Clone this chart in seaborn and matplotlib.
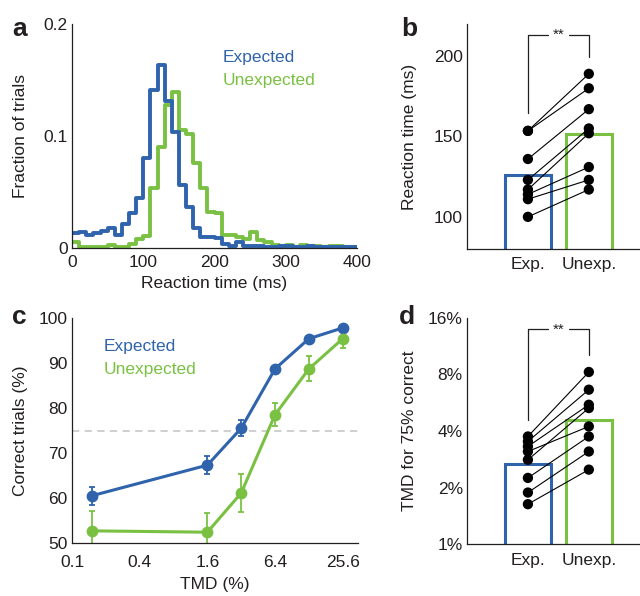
import numpy as np
import pandas as pd
import matplotlib
matplotlib.use("Agg")
import matplotlib.pyplot as plt
import seaborn as sns

sns.set_style("white")
plt.rcParams['font.family'] = ['Liberation Sans', 'DejaVu Sans']

BLUE = "#2F63AC"
GREEN = "#7AC143"
TXT = "#231F20"

# ---------------- Panel a: reaction time histograms ----------------
bin_edges = np.arange(0, 410, 10)
hist_expected = [0.013, 0.014, 0.012, 0.013, 0.015, 0.018, 0.012, 0.021, 0.031, 0.045,
                 0.080, 0.141, 0.163, 0.131, 0.104, 0.056, 0.037, 0.018, 0.010, 0.010,
                 0.009, 0.004, 0.002, 0.005, 0.002, 0.002, 0.002, 0.001, 0.001, 0.002,
                 0.002, 0.001, 0.001, 0.002, 0.001, 0.001, 0.001, 0.001, 0.001, 0.001]
hist_unexpected = [0.005, 0.001, 0.001, 0.001, 0.001, 0.003, 0.001, 0.001, 0.004, 0.008,
                   0.011, 0.054, 0.090, 0.128, 0.139, 0.105, 0.102, 0.076, 0.054, 0.032,
                   0.031, 0.012, 0.012, 0.010, 0.008, 0.014, 0.007, 0.005, 0.003, 0.002,
                   0.003, 0.001, 0.003, 0.002, 0.002, 0.001, 0.002, 0.002, 0.001, 0.001]

# ---------------- Panel b: mean reaction time per subject ----------------
conditions = ["Exp.", "Unexp."]
rt_expected = [153.5, 153.5, 136, 123, 117, 114, 111, 100]
rt_unexpected = [189, 180, 167, 155, 152, 131, 123, 117]

# ---------------- Panel c: psychometric curves ----------------
tmd = [0.15, 1.6, 3.2, 6.4, 12.8, 25.6]
tmd_ticks = [0.1, 0.4, 1.6, 6.4, 25.6]
correct_expected = [60.5, 67.3, 75.5, 88.7, 95.4, 97.8]
sem_expected = [2.0, 2.0, 1.8, 0.6, 0.5, 0.5]
correct_unexpected = [52.7, 52.4, 61.1, 78.5, 88.7, 95.4]
sem_unexpected = [4.5, 4.3, 4.2, 2.6, 2.8, 2.0]

# ---------------- Panel d: TMD for 75% correct ----------------
tmd75_expected = [3.74, 3.52, 3.31, 3.11, 2.81, 2.25, 1.88, 1.63]
tmd75_unexpected = [8.25, 6.64, 5.52, 4.23, 5.30, 3.74, 3.11, 2.49]

W, H = 640, 596
fig = plt.figure(figsize=(W / 100, H / 100), dpi=100)


def axes_px(left, top, right, bottom):
    return fig.add_axes([left / W, 1 - bottom / H, (right - left) / W, (bottom - top) / H])


def style(ax, xpad=5, fs=12.5):
    for s in ["top", "right"]:
        ax.spines[s].set_visible(False)
    for s in ["left", "bottom"]:
        ax.spines[s].set_color(TXT)
        ax.spines[s].set_linewidth(0.9)
    ax.tick_params(direction="in", length=3, width=0.9, colors=TXT, labelsize=fs, pad=3)
    ax.tick_params(axis="x", pad=xpad)
    ax.set_facecolor("none")


def place_ylabel(ax, left_px, x_px):
    # right edge (text baseline side) of the rotated y-label at figure pixel column x_px
    l, b, w, h = ax.get_position().bounds
    ax.yaxis.set_label_coords((x_px - left_px) / (w * W), 0.5)


LFS = 12.5

# ---- a ----
ax_a = axes_px(72, 24, 357, 248)
centers = bin_edges[:-1] + 5
df_a = pd.DataFrame({"rt": np.concatenate([centers, centers]),
                     "frac": hist_expected + hist_unexpected,
                     "cond": ["Expected"] * len(centers) + ["Unexpected"] * len(centers)})
sns.histplot(data=df_a, x="rt", weights="frac", hue="cond", palette=[BLUE, GREEN],
             bins=len(centers), binrange=(bin_edges[0], bin_edges[-1]), element="step",
             fill=False, linewidth=2.8, legend=False, ax=ax_a)
ax_a.set_xlim(0, 400)
ax_a.set_ylim(0, 0.2)
ax_a.set_xticks([0, 100, 200, 300, 400])
ax_a.set_yticks([0, 0.1, 0.2])
ax_a.set_yticklabels(["0", "0.1", "0.2"])
ax_a.set_xlabel("Reaction time (ms)", fontsize=LFS, color=TXT, labelpad=4)
ax_a.set_ylabel("Fraction of trials", fontsize=LFS, color=TXT)
style(ax_a, xpad=5)
place_ylabel(ax_a, 72, 28)
ax_a.text(212, 0.17, "Expected", color=BLUE, fontsize=LFS, va="center")
ax_a.text(212, 0.15, "Unexpected", color=GREEN, fontsize=LFS, va="center")


def paired_panel(ax, exp_vals, unexp_vals, log=False):
    n = len(exp_vals)
    df = pd.DataFrame({
        "cond": [conditions[0]] * n + [conditions[1]] * n,
        "pos": [0] * n + [1] * n,
        "val": list(exp_vals) + list(unexp_vals),
        "subj": list(range(n)) * 2,
    })
    if log:
        ax.set_yscale("log", base=2)
    sns.barplot(data=df, x="cond", y="val", hue="cond", palette=[BLUE, GREEN],
                errorbar=None, fill=False, linewidth=2.2, width=0.75, legend=False, ax=ax)
    sns.lineplot(data=df, x="pos", y="val", units="subj", estimator=None, color="black",
                 linewidth=0.8, ax=ax)
    sns.scatterplot(data=df, x="pos", y="val", color="black", s=55, edgecolor="none",
                    zorder=5, ax=ax, clip_on=False)
    ax.set_xlabel("")
    ax.set_xticks([0, 1])
    ax.set_xticklabels(conditions)


# ---- b ----
ax_b = axes_px(467, 24, 640, 249)
paired_panel(ax_b, rt_expected, rt_unexpected)
ax_b.set_xlim(-1, 1.84)
ax_b.set_ylim(80, 220)
ax_b.set_yticks([100, 150, 200])
ax_b.set_ylabel("Reaction time (ms)", fontsize=LFS, color=TXT)
style(ax_b, xpad=6)
place_ylabel(ax_b, 467, 417)
ax_b.plot([0, 0, 0.33], [164.5, 213, 213], color=TXT, lw=0.9)
ax_b.plot([0.67, 1, 1], [213, 213, 199.5], color=TXT, lw=0.9)
ax_b.text(0.5, 213, "**", ha="center", va="center", fontsize=11, color=TXT)

# ---- c ----
ax_c = axes_px(72, 318, 358, 543)
ax_c.set_xscale("log", base=2)
df_c = pd.DataFrame({
    "tmd": tmd * 2,
    "pc": correct_expected + correct_unexpected,
    "cond": ["Expected"] * len(tmd) + ["Unexpected"] * len(tmd),
})
ax_c.axhline(75, color="#CCCCCC", lw=1.3, ls=(0, (4, 3)), zorder=0)
ax_c.errorbar(tmd, correct_expected, yerr=sem_expected, fmt="none", ecolor=BLUE,
              elinewidth=1.3, capsize=2.5, capthick=1.3)
ax_c.errorbar(tmd, correct_unexpected, yerr=sem_unexpected, fmt="none", ecolor=GREEN,
              elinewidth=1.3, capsize=2.5, capthick=1.3)
sns.lineplot(data=df_c, x="tmd", y="pc", hue="cond", palette=[BLUE, GREEN], marker="o",
             markersize=8.5, markeredgecolor="none", linewidth=2.2, legend=False, ax=ax_c)
ax_c.set_xlim(0.1, 35)
ax_c.set_ylim(50, 100)
ax_c.set_xticks(tmd_ticks)
ax_c.set_xticklabels([str(t) for t in tmd_ticks])
ax_c.xaxis.set_minor_locator(matplotlib.ticker.NullLocator())
ax_c.set_yticks([50, 60, 70, 80, 90, 100])
ax_c.set_xlabel("TMD (%)", fontsize=LFS, color=TXT, labelpad=5)
ax_c.set_ylabel("Correct trials (%)", fontsize=LFS, color=TXT)
style(ax_c, xpad=8.5)
place_ylabel(ax_c, 72, 28)
ax_c.text(0.19, 93.6, "Expected", color=BLUE, fontsize=LFS, va="center")
ax_c.text(0.19, 88.6, "Unexpected", color=GREEN, fontsize=LFS, va="center")

# ---- d ----
ax_d = axes_px(467, 318, 640, 544)
paired_panel(ax_d, tmd75_expected, tmd75_unexpected, log=True)
ax_d.set_xlim(-1, 1.84)
ax_d.set_ylim(1, 16)
ax_d.set_yticks([1, 2, 4, 8, 16])
ax_d.set_yticklabels(["1%", "2%", "4%", "8%", "16%"])
ax_d.yaxis.set_minor_locator(matplotlib.ticker.NullLocator())
ax_d.set_ylabel("TMD for 75% correct", fontsize=LFS, color=TXT)
style(ax_d, xpad=6.5)
place_ylabel(ax_d, 467, 417)
ax_d.plot([0, 0, 0.33], [4.6, 13.9, 13.9], color=TXT, lw=0.9)
ax_d.plot([0.67, 1, 1], [13.9, 13.9, 10.2], color=TXT, lw=0.9)
ax_d.text(0.5, 13.9, "**", ha="center", va="center", fontsize=11, color=TXT)

# panel letters
for lbl, x, y in [("a", 12, 36), ("b", 401, 36), ("c", 12, 324), ("d", 399, 324)]:
    fig.text(x / W, 1 - y / H, lbl, fontsize=19, fontweight="bold", color=TXT,
             ha="left", va="baseline")

fig.savefig("out.png", dpi=100)
